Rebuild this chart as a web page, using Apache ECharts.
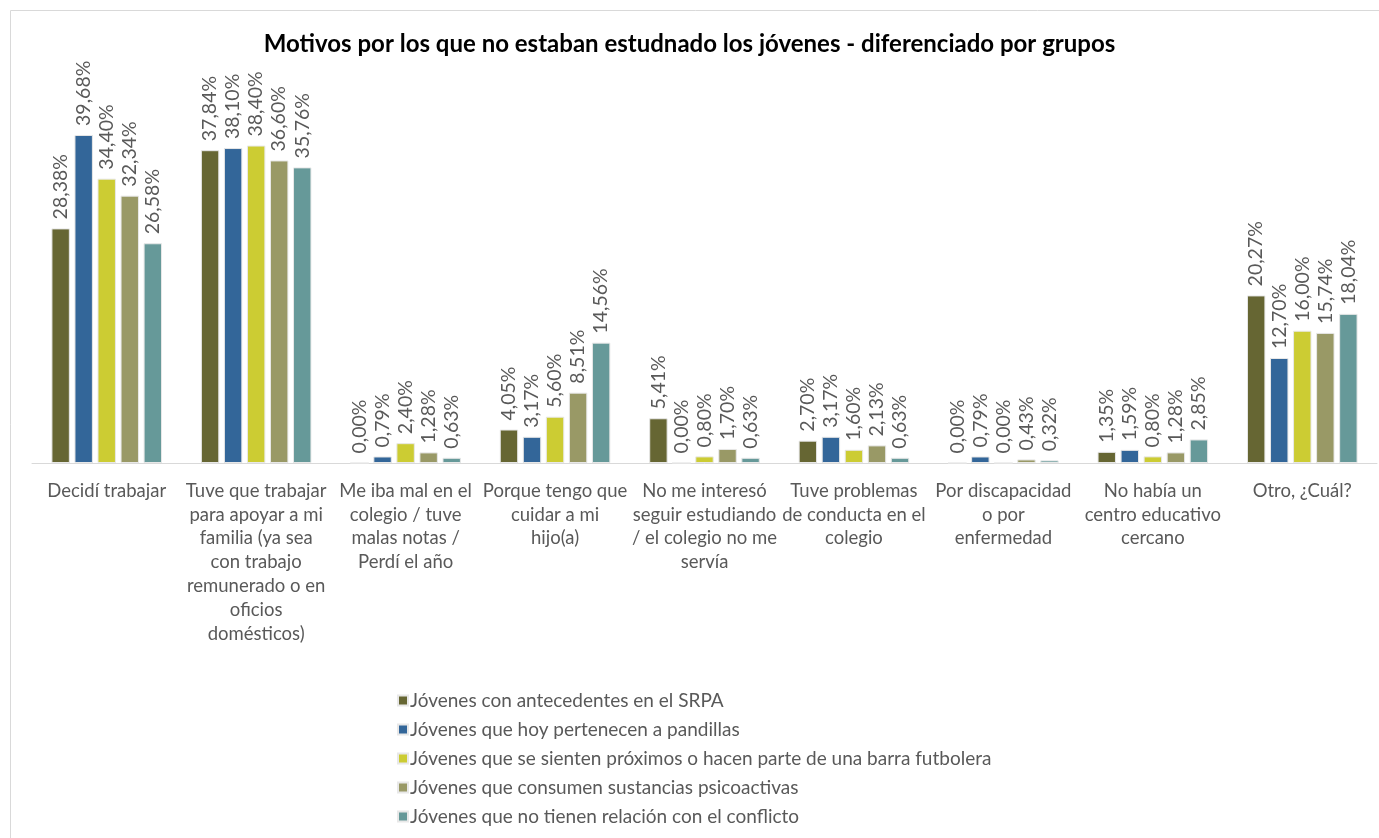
<!DOCTYPE html>
<html>
<head>
<meta charset="utf-8">
<script src="https://cdn.jsdelivr.net/npm/echarts@6/dist/echarts.min.js"></script>
<style>
  html, body { margin: 0; padding: 0; background: #fff; }
  #chart { width: 1379px; height: 838px; }
</style>
</head>
<body>
<div id="chart"></div>
<script>
// === DATOS ===
const categories = [
    'Decidí trabajar',
    'Tuve que trabajar\npara apoyar a mi\nfamilia (ya sea\ncon trabajo\nremunerado o en\noficios\ndomésticos)',
    'Me iba mal en el\ncolegio / tuve\nmalas notas /\nPerdí el año',
    'Porque tengo que\ncuidar a mi\nhijo(a)',
    'No me interesó\nseguir estudiando\n/ el colegio no me\nservía',
    'Tuve problemas\nde conducta en el\ncolegio',
    'Por discapacidad\no por\nenfermedad',
    'No había un\ncentro educativo\ncercano',
    'Otro, ¿Cuál?'
];

const seriesNames = [
    'Jóvenes con antecedentes en el SRPA',
    'Jóvenes que hoy pertenecen a pandillas',
    'Jóvenes que se sienten próximos o hacen parte de una barra futbolera',
    'Jóvenes que consumen sustancias psicoactivas',
    'Jóvenes que no tienen relación con el conflicto'
];

const srpa       = [28.38, 37.84, 0.00, 4.05, 5.41, 2.70, 0.00, 1.35, 20.27];
const pandillas  = [39.68, 38.10, 0.79, 3.17, 0.00, 3.17, 0.79, 1.59, 12.70];
const barra      = [34.40, 38.40, 2.40, 5.60, 0.80, 1.60, 0.00, 0.80, 16.00];
const sustancias = [32.34, 36.60, 1.28, 8.51, 1.70, 2.13, 0.43, 1.28, 15.74];
const sinRelacion = [26.58, 35.76, 0.63, 14.56, 0.63, 0.63, 0.32, 2.85, 18.04];

const seriesData = [srpa, pandillas, barra, sustancias, sinRelacion];
const colors = ['#666633', '#336699', '#cccc33', '#999966', '#669999'];

const fontFamily = 'Lato, "Open Sans", sans-serif';

// === RENDER ===
const chart = echarts.init(document.getElementById('chart'));

const option = {
    color: colors,
    animation: false,
    textStyle: { fontFamily: fontFamily },
    title: {
        text: 'Motivos por los que no estaban estudnado los jóvenes - diferenciado por grupos',
        left: 'center',
        top: 27,
        textStyle: { fontSize: 24, fontWeight: 'bold', color: '#000', fontFamily: fontFamily }
    },
    graphic: [{
        type: 'rect',
        shape: { x: 10.5, y: 10.5, width: 1400, height: 900 },
        style: { fill: 'none', stroke: '#d9d9d9', lineWidth: 1 },
        silent: true
    }],
    legend: {
        orient: 'vertical',
        left: 392,
        top: 686,
        itemWidth: 10,
        itemHeight: 10,
        itemGap: 10,
        icon: 'rect',
        textStyle: { fontSize: 19, color: '#595959', padding: [0, 0, 0, -3] },
        data: seriesNames
    },
    grid: { left: 32, right: 2, top: 91, bottom: 375 },
    xAxis: {
        type: 'category',
        data: categories,
        axisTick: { show: false },
        axisLine: { lineStyle: { color: '#d9d9d9', width: 1 } },
        axisLabel: {
            interval: 0,
            margin: 16,
            fontSize: 18.5,
            lineHeight: 23.8,
            color: '#595959',
            align: 'center'
        }
    },
    yAxis: {
        type: 'value',
        min: 0,
        max: 45,
        show: false,
        splitLine: { show: false }
    },
    series: seriesData.map((vals, i) => ({
        name: seriesNames[i],
        type: 'bar',
        data: vals,
        barGap: '25%',
        barCategoryGap: '26%',
        itemStyle: { borderColor: '#e8e8e8', borderWidth: 1 },
        label: {
            show: true,
            position: 'top',
            rotate: 90,
            align: 'left',
            verticalAlign: 'middle',
            distance: 9,
            fontSize: 19.5,
            color: '#595959',
            formatter: p => p.value.toFixed(2).replace('.', ',') + '%'
        }
    }))
};

chart.setOption(option);
</script>
</body>
</html>
